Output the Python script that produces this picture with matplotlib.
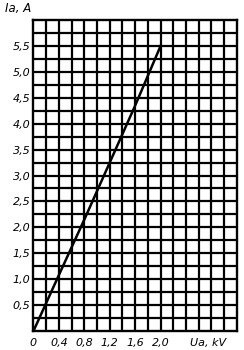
import matplotlib
matplotlib.use("Agg")
import matplotlib.pyplot as plt
import numpy as np

# data
voltage_kv = [0.0, 0.4, 0.8, 1.2, 1.6, 2.0]
current_a = [0.0, 1.08, 2.15, 3.25, 4.35, 5.5]

x_ticks = [0.0, 0.4, 0.8, 1.2, 1.6, 2.0]
x_tick_labels = ["0", "0,4", "0,8", "1,2", "1,6", "2,0"]
y_ticks = [0.5, 1.0, 1.5, 2.0, 2.5, 3.0, 3.5, 4.0, 4.5, 5.0, 5.5]
y_tick_labels = ["0,5", "1,0", "1,5", "2,0", "2,5", "3,0", "3,5", "4,0", "4,5", "5,0", "5,5"]
x_max, y_max = 3.2, 6.0
x_grid_step, y_grid_step = 0.2, 0.25

fig = plt.figure(figsize=(2.44, 3.5), dpi=100)
ax = fig.add_axes([0.137, 0.054, 0.834, 0.889])
ax.set_xlim(0, x_max)
ax.set_ylim(0, y_max)

for gx in np.arange(x_grid_step, x_max, x_grid_step):
    ax.axvline(gx, color="black", lw=1.6, zorder=1)
for gy in np.arange(y_grid_step, y_max, y_grid_step):
    ax.axhline(gy, color="black", lw=1.6, zorder=1)

ax.plot(voltage_kv, current_a, color="black", lw=1.8, zorder=3)

for s in ax.spines.values():
    s.set_linewidth(1.7)

ax.set_xticks(x_ticks)
ax.set_xticklabels(x_tick_labels, fontsize=8, style="italic")
ax.set_yticks(y_ticks)
ax.set_yticklabels(y_tick_labels, fontsize=8, style="italic")
ax.tick_params(length=0, pad=5)
ax.tick_params(axis="y", pad=2)

fig.text(0.02, 0.975, "Ia, A", fontsize=8.5, style="italic", ha="left", va="center")
ax.annotate("Ua, kV", xy=(2.75, 0), xycoords=("data", "axes fraction"),
            xytext=(0, -5), textcoords="offset points",
            fontsize=8, style="italic", ha="center", va="top")

fig.savefig("out.png", dpi=100)
